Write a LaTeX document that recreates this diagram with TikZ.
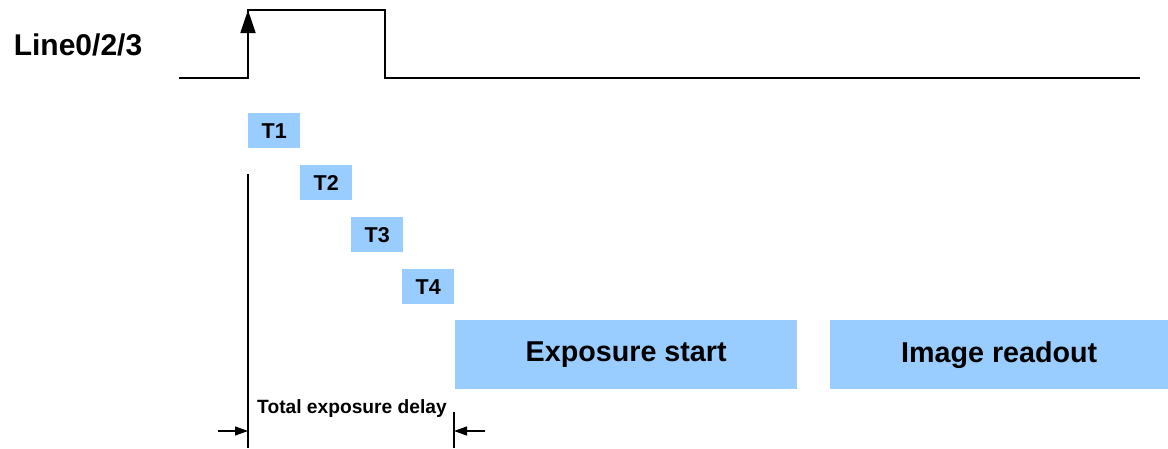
\documentclass[tikz,border=0pt]{standalone}
\usepackage{fontspec}
\setmainfont{Liberation Sans}
\usetikzlibrary{arrows.meta}
\definecolor{boxblue}{HTML}{99CCFF}
\begin{document}
\begin{tikzpicture}[x=1pt,y=-1pt,
  sig/.style={line width=1.8pt},
  thin line/.style={line width=1.4pt},
  tbox/.style={fill=boxblue, inner sep=0pt, anchor=north west, minimum width=52pt, minimum height=35pt, font=\fontsize{21.5}{25}\selectfont\bfseries},
  bigbox/.style={fill=boxblue, inner sep=0pt, anchor=north west, minimum height=69pt, font=\fontsize{28.7}{33}\selectfont\bfseries},
  lbl/.style={inner sep=0pt, font=\bfseries},
  dimarrow/.style={line width=1.3pt, -{Triangle[length=13pt,width=9pt]}}]
\useasboundingbox (0,0) rectangle (1168,448);
% signal
\coordinate (s0) at (179,78);
\coordinate (s1) at (248,78);
\coordinate (s2) at (248,10);
\coordinate (s3) at (385,10);
\coordinate (s4) at (385,78);
\coordinate (s5) at (1140,78);
\coordinate (a0) at (248,45);
\draw[sig] (s0) -- (s1) -- (s2) -- (s3) -- (s4) -- (s5);
\draw[sig, -{Triangle[length=23pt,width=15pt]}] (a0) -- (s2);
\node[lbl, font=\fontsize{30}{34}\selectfont\bfseries] (line) at (78,45) {Line0/2/3};
% T boxes
\node[tbox] (t1) at (248,113) {T1};
\node[tbox] (t2) at (300,165) {T2};
\node[tbox] (t3) at (351,217) {T3};
\node[tbox] (t4) at (402,269) {T4};
% big boxes
\node[bigbox, minimum width=342pt] (exp) at (455,320) {Exposure start};
\node[bigbox, minimum width=338pt] (img) at (830,320) {Image readout};
% delay markers
\coordinate (v1t) at (248,174);
\coordinate (v1b) at (248,448);
\coordinate (v2t) at (454,412);
\coordinate (v2b) at (454,448);
\draw[thin line] (v1t) -- (v1b);
\draw[thin line] (v2t) -- (v2b);
\coordinate (la) at (218,431);
\coordinate (lb) at (248,431);
\coordinate (ra) at (485,431);
\coordinate (rb) at (454,431);
\draw[dimarrow] (la) -- (lb);
\draw[dimarrow] (ra) -- (rb);
\node[lbl, font=\fontsize{19.2}{23}\selectfont\bfseries] (delay) at (352,409) {Total exposure delay};
\end{tikzpicture}
\end{document}
